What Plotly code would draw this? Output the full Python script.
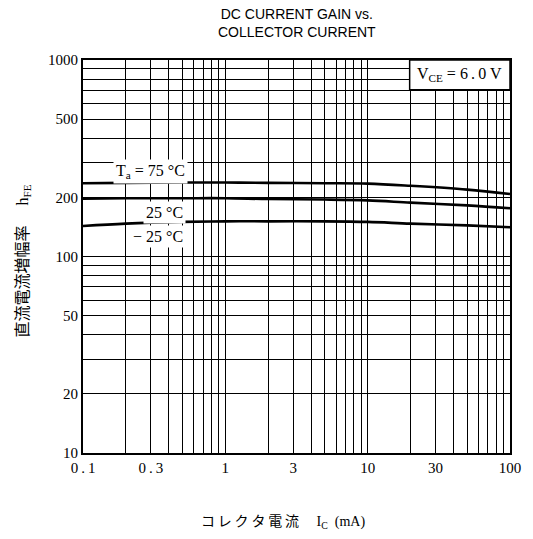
import math
import plotly.graph_objects as go

# ---- data ----
ic_ma = [0.1, 0.2, 0.5, 1, 2, 5, 10, 20, 50, 100]
hfe_75 = [236, 237, 238, 238, 237, 236, 235, 229, 219, 208]
hfe_25 = [197, 198, 198, 198, 196, 195, 193, 188, 182, 176]
hfe_m25 = [143, 147, 150, 151, 151, 151, 150, 147, 144, 141]

series_labels = ["T<sub>a</sub> = 75 °C", "25 °C", "− 25 °C"]
# label anchor points (Ic, hFE) for the curve labels (right edge, middle)
label_x = [0.55, 0.53, 0.53]
label_y = [272, 168, 126]

x_tick_vals = [0.1, 0.3, 1, 3, 10, 30, 100]
x_tick_text = ["0\u2009.\u20091", "0\u2009.\u20093", "1", "3", "10", "30", "100"]
x_minor_vals = [0.2, 0.4, 0.5, 0.6, 0.7, 0.8, 0.9,
                2, 4, 5, 6, 7, 8, 9,
                20, 40, 50, 60, 70, 80, 90]

y_tick_vals = [10, 20, 50, 100, 200, 500, 1000]
y_tick_text = ["10", "20", "50", "100", "200", "500", "1000"]
y_minor_vals = [30, 40, 60, 70, 80, 90,
                300, 400, 600, 700, 800, 900]

title_lines = ["DC CURRENT GAIN vs.", "COLLECTOR CURRENT"]
x_title = "コ\u2009レ\u2009ク\u2009タ\u2009電\u2009流\u3000 I<sub>C</sub>\u2002(mA)"
y_title = "直流電流増幅率\u3000 h<sub>FE</sub>"
vce_text = "V<sub>CE</sub> = 6\u2009.\u20090 V"

SERIF = "Liberation Serif, Noto Sans CJK JP, serif"

fig = go.Figure()
for ys in (hfe_75, hfe_25, hfe_m25):
    fig.add_trace(go.Scatter(x=ic_ma, y=ys, mode="lines",
                             line=dict(color="black", width=2.6, shape="spline"),
                             showlegend=False, hoverinfo="skip"))

for txt, lx, ly in zip(series_labels, label_x, label_y):
    fig.add_annotation(x=math.log10(lx), y=math.log10(ly), xref="x", yref="y",
                       text=txt, showarrow=False, xanchor="right", yanchor="middle",
                       bgcolor="white", borderpad=2,
                       font=dict(family=SERIF, size=16, color="black"))

# VCE box at top-right
fig.add_shape(type="rect", xref="paper", yref="paper", x0=0.765, x1=1.0, y0=0.924, y1=1.0,
              fillcolor="white", line=dict(color="black", width=1.5), layer="above")
fig.add_annotation(x=0.8825, y=0.962, xref="paper", yref="paper", text=vce_text,
                   showarrow=False, xanchor="center", yanchor="middle",
                   font=dict(family=SERIF, size=16, color="black"))

# title (two lines)
fig.add_annotation(x=0.5, y=1.094, xref="paper", yref="paper",
                   text="<br>".join(title_lines), showarrow=False,
                   xanchor="center", yanchor="middle",
                   font=dict(family="Liberation Sans, Arial, sans-serif", size=14, color="black"))

# axis titles
fig.add_annotation(x=0.468, y=-0.178, xref="paper", yref="paper", text=x_title,
                   showarrow=False, xanchor="center", yanchor="middle",
                   font=dict(family=SERIF, size=14, color="black"))
fig.add_annotation(x=-0.1406, y=0.49, xref="paper", yref="paper", text=y_title,
                   showarrow=False, xanchor="center", yanchor="middle", textangle=-90,
                   font=dict(family=SERIF, size=16, color="black"))

axis_common = dict(showgrid=True, gridcolor="black", gridwidth=1.3,
                   showline=True, linecolor="black", linewidth=2, mirror=True,
                   ticks="", zeroline=False, tickangle=0,
                   tickfont=dict(family="Liberation Serif, serif", size=15, color="black"))

fig.update_xaxes(type="log", range=[-1, 2], tickmode="array",
                 tickvals=x_tick_vals, ticktext=x_tick_text,
                 minor=dict(tickmode="array", tickvals=x_minor_vals, ticks="",
                            showgrid=True, gridcolor="black", gridwidth=1.3),
                 **axis_common)
fig.update_yaxes(type="log", range=[1, 3], tickmode="array",
                 tickvals=y_tick_vals, ticktext=y_tick_text,
                 minor=dict(tickmode="array", tickvals=y_minor_vals, ticks="",
                            showgrid=True, gridcolor="black", gridwidth=1.3),
                 **axis_common)

fig.update_layout(
    width=533, height=539,
    margin=dict(l=83, r=16, t=60, b=86),
    paper_bgcolor="white", plot_bgcolor="white",
)

fig.write_html("out.html")
